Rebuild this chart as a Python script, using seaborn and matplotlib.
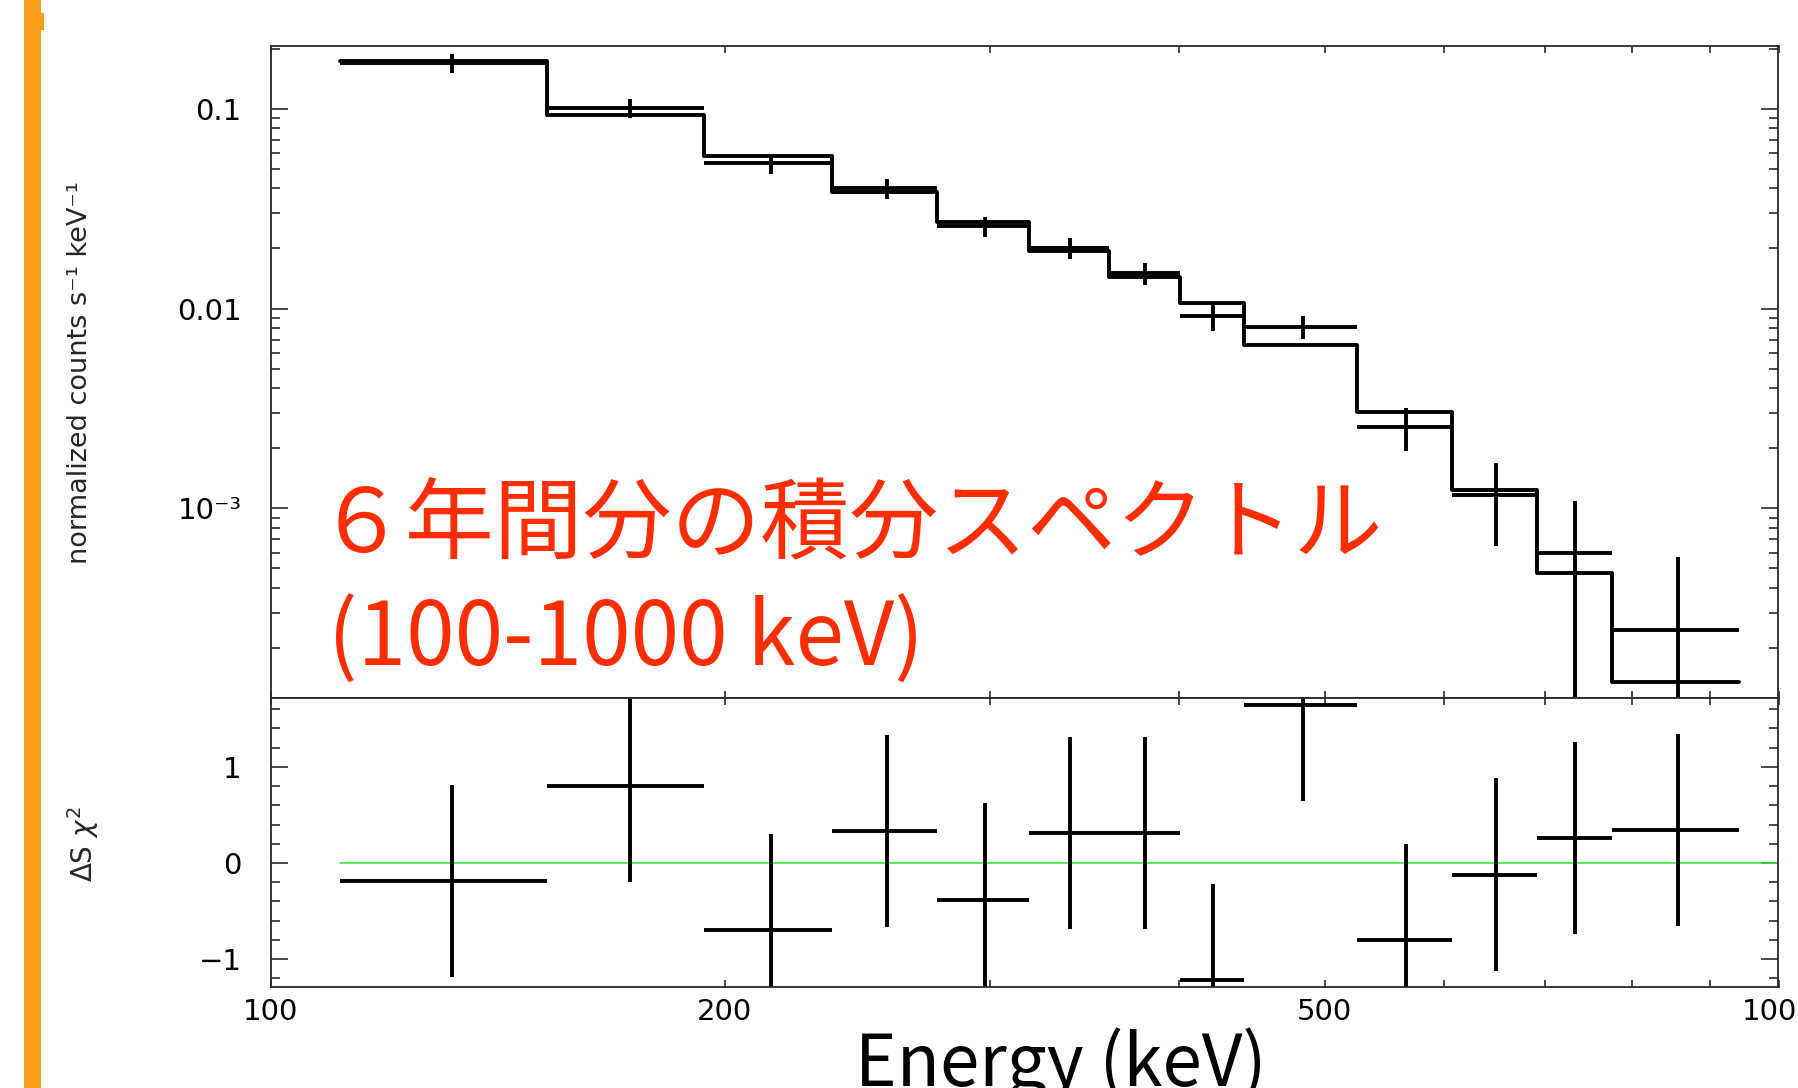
import numpy as np
import pandas as pd
import matplotlib
matplotlib.use("Agg")
import matplotlib.pyplot as plt
import seaborn as sns
from matplotlib.ticker import FixedLocator, NullFormatter, MultipleLocator
from matplotlib.patches import Rectangle

# ---- spectrum data -------------------------------------------------------
# energy bin edges and bin centres (keV)
bin_edges = [111.2, 152.5, 193.8, 235.5, 276.8, 318.1, 359.5,
             400.6, 442.4, 525.0, 607.4, 691.4, 775.3, 940.8]
bin_centers = [131.9, 173.2, 214.7, 256.2, 297.5, 338.8, 380.1,
               421.5, 483.7, 566.2, 649.4, 733.4, 858.1]

# normalized counts s^-1 keV^-1 with 1-sigma errors
rate = [0.1700, 0.1008, 0.0534, 0.03995, 0.0259, 0.02018, 0.01501,
        0.00915, 0.0081, 0.00256, 0.001165, 0.000600, 0.0002455]
rate_err = [0.019, 0.0112, 0.0060, 0.0044, 0.0030, 0.0024, 0.0019,
            0.00145, 0.00109, 0.00063, 0.00052, 0.000488, 0.000328]

# folded model
model_rate = [0.1735, 0.0933, 0.0580, 0.03846, 0.0270, 0.01943, 0.01434,
              0.01068, 0.0066, 0.003045, 0.001234, 0.000473, 0.0001344]

# residuals (sign * delta chi^2 contribution)
delta_chi = [-0.19, 0.80, -0.70, 0.33, -0.38, 0.31, 0.31,
             -1.22, 1.64, -0.80, -0.12, 0.26, 0.34]
delta_chi_err = [1.0, 1.0, 1.0, 1.0, 1.0, 1.0, 1.0,
                 1.0, 1.0, 1.0, 1.0, 1.0, 1.0]

# axis ticks and labels
x_ticks = [100, 200, 500, 1000]
x_tick_labels = ["100", "200", "500", "1000"]
x_minor_ticks = [300, 400, 600, 700, 800, 900]
rate_ticks = [0.1, 0.01, 0.001]
rate_tick_labels = ["0.1", "0.01", "10⁻³"]
chi_ticks = [-1, 0, 1]
chi_tick_labels = ["−1", "0", "1"]

title_line1 = "６年間分の積分スペクトル"
title_line2 = "(100-1000 keV)"

# ---- style ---------------------------------------------------------------
sns.set_theme(style="ticks")
plt.rcParams["font.family"] = ["DejaVu Sans"]
plt.rcParams["mathtext.fontset"] = "dejavusans"

W, H = 1799, 1088
LW = 2.8
SPINE = "#2a2a2a"
RED = "#FF2D00"
ORANGE = "#F99D1D"
JP = ["Noto Sans CJK JP", "DejaVu Sans"]

fig = plt.figure(figsize=(W / 100, H / 100), dpi=100)
fig.patch.set_facecolor("white")

left, right = 270.8 / W, 1778.5 / W
y_top, y_mid, y_bot = 1 - 45.7 / H, 1 - 698.3 / H, 1 - 986.7 / H
ax_top = fig.add_axes([left, y_mid, right - left, y_top - y_mid])
ax_bot = fig.add_axes([left, y_bot, right - left, y_mid - y_bot], sharex=ax_top)

for ax in (ax_top, ax_bot):
    ax.set_xscale("log")
    ax.set_facecolor("white")
    for sp in ax.spines.values():
        sp.set_color(SPINE)
        sp.set_linewidth(1.3)
ax_top.set_yscale("log")

centers = np.array(bin_centers)
edges = np.array(bin_edges)
xerr = [centers - edges[:-1], edges[1:] - centers]

# ---- upper panel: data crosses and stepped model -------------------------
model_df = pd.DataFrame({"energy": bin_edges,
                         "model": model_rate + [model_rate[-1]]})
sns.lineplot(data=model_df, x="energy", y="model", drawstyle="steps-post",
             estimator=None, sort=False, color="black", linewidth=LW,
             ax=ax_top)
ax_top.errorbar(bin_centers, rate, xerr=xerr, yerr=rate_err, fmt="none",
                ecolor="black", elinewidth=LW, capsize=0)

ax_top.set_xlim(100, 1000)
ax_top.set_ylim(1.12e-4, 0.207)
ax_top.set_xlabel("")
ax_top.set_ylabel("")

# ---- lower panel: residuals ----------------------------------------------
ax_bot.plot([bin_edges[0], 1000], [0, 0], color="#33ee33", linewidth=1.2,
            zorder=1)
ax_bot.errorbar(bin_centers, delta_chi, xerr=xerr, yerr=delta_chi_err,
                fmt="none", ecolor="black", elinewidth=LW, capsize=0,
                zorder=2)
ax_bot.set_ylim(-1.286, 1.712)

# ---- ticks ---------------------------------------------------------------
ax_top.set_yticks(rate_ticks, rate_tick_labels)
ax_top.yaxis.set_minor_locator(FixedLocator(
    [m * d for d in (1e-4, 1e-3, 1e-2, 1e-1) for m in range(2, 10)]))
ax_top.yaxis.set_minor_formatter(NullFormatter())

ax_bot.set_yticks(chi_ticks, chi_tick_labels)
ax_bot.yaxis.set_minor_locator(MultipleLocator(0.2))

ax_bot.set_xticks(x_ticks, x_tick_labels)
ax_bot.xaxis.set_minor_locator(FixedLocator(x_minor_ticks))
ax_bot.xaxis.set_minor_formatter(NullFormatter())
ax_bot.set_xlim(100, 1000)

for ax in (ax_top, ax_bot):
    ax.tick_params(which="both", direction="in", top=True, right=True,
                   color=SPINE, width=1.2, labelsize=21, labelcolor="black")
    ax.tick_params(axis="y", which="major", length=12, pad=21)
    ax.tick_params(axis="y", which="minor", length=6.5)
    ax.tick_params(axis="x", which="both", length=5, pad=8)
ax_top.tick_params(axis="x", which="both", labelbottom=False)

# ---- axis titles ---------------------------------------------------------
fig.text(80 / W, 1 - 373 / H, "normalized counts s⁻¹ keV⁻¹", rotation=90,
         ha="center", va="center", fontsize=19.5)
fig.text(83 / W, 1 - 844 / H, r"$\Delta\mathrm{S}\ \chi^{2}$", rotation=90,
         ha="center", va="center", fontsize=20)
fig.text(855 / W, 2 / H, "Energy (keV)", family=JP, fontsize=51,
         ha="left", va="baseline", color="black")

# ---- annotation ----------------------------------------------------------
fig.text(317 / W, 1 - 551 / H, title_line1, family=JP, fontsize=64,
         color=RED, ha="left", va="baseline")
fig.text(328 / W, 1 - 666 / H, title_line2, family=JP, fontsize=63,
         color=RED, ha="left", va="baseline")

# ---- slide accent bar ----------------------------------------------------
fig.add_artist(Rectangle((24 / W, 0), 16.5 / W, 1, transform=fig.transFigure,
                         facecolor=ORANGE, edgecolor="none"))
fig.add_artist(Rectangle((24 / W, 1 - 30 / H), 20 / W, 17 / H,
                         transform=fig.transFigure, facecolor=ORANGE,
                         edgecolor="none"))

fig.savefig("out.png", dpi=100, facecolor="white")
